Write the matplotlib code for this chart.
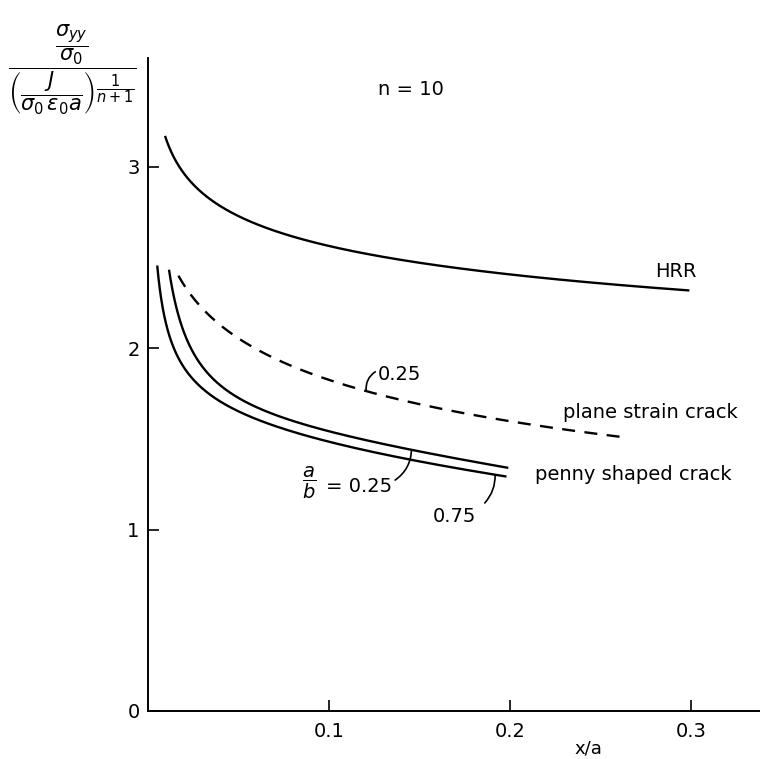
import numpy as np
import matplotlib
matplotlib.use("Agg")
import matplotlib.pyplot as plt

plt.rcParams['font.family'] = ['DejaVu Sans']
plt.rcParams['mathtext.fontset'] = 'dejavusans'

# ---- data ----
hrr_x = [0.0094, 0.0276, 0.0536, 0.081, 0.109, 0.162, 0.217, 0.272, 0.299]
hrr_y = [3.17, 2.88, 2.71, 2.61, 2.54, 2.46, 2.39, 2.34, 2.315]

plane_x = [0.0168, 0.035, 0.0536, 0.072, 0.1006, 0.156, 0.2166, 0.262]
plane_y = [2.40, 2.17, 2.03, 1.935, 1.825, 1.678, 1.569, 1.512]

penny25_x = [0.0116, 0.0168, 0.024, 0.035, 0.05, 0.07, 0.1, 0.15, 0.199]
penny25_y = [2.44, 2.17, 1.99, 1.845, 1.735, 1.64, 1.53, 1.425, 1.347]

penny75_x = [0.0051, 0.0094, 0.0131, 0.02, 0.0324, 0.05, 0.07, 0.1, 0.15, 0.198]
penny75_y = [2.455, 2.17, 2.02, 1.88, 1.77, 1.66, 1.575, 1.47, 1.375, 1.297]

x_ticks = [0.1, 0.2, 0.3]
x_tick_labels = ['0.1', '0.2', '0.3']
y_ticks = [0, 1, 2, 3]
y_tick_labels = ['0', '1', '2', '3']


def smooth(xs, ys, n=300, deg=3):
    lx = np.log(np.asarray(xs, float))
    c = np.polyfit(lx, np.asarray(ys, float), deg)
    t = np.linspace(lx[0], lx[-1], n)
    return np.exp(t), np.polyval(c, t)


fig = plt.figure(figsize=(7.6, 7.59), dpi=100)
ax = fig.add_axes([148/760, 48/759, 612/760, 653/759])
ax.set_xlim(0, 0.338)
ax.set_ylim(0, 3.6)

lw = 1.7
for xs, ys in [(hrr_x, hrr_y), (penny25_x, penny25_y), (penny75_x, penny75_y)]:
    sx, sy = smooth(xs, ys)
    ax.plot(sx, sy, color='black', lw=lw, solid_capstyle='butt')
sx, sy = smooth(plane_x, plane_y)
ax.plot(sx, sy, color='black', lw=lw, dashes=(5.5, 4.0))

for s in ['top', 'right']:
    ax.spines[s].set_visible(False)
for s in ['left', 'bottom']:
    ax.spines[s].set_linewidth(1.4)

ax.set_xticks(x_ticks)
ax.set_xticklabels(x_tick_labels)
ax.set_yticks(y_ticks)
ax.set_yticklabels(y_tick_labels)
ax.tick_params(direction='in', length=8, width=1.2, labelsize=14, pad=6)
ax.tick_params(axis='x', pad=8)

# texts
tk = dict(fontsize=14, color='black', va='baseline', ha='left')
ax.text(0.127, 3.396, 'n = 10', **tk)
ax.text(0.280, 2.39, 'HRR', **tk)
ax.text(0.2293, 1.615, 'plane strain crack', **tk)
ax.text(0.2138, 1.273, 'penny shaped crack', **tk)
ax.text(0.127, 1.825, '0.25', **tk)
ax.text(0.1575, 1.042, '0.75', **tk)
ax.text(0.0985, 1.207, '= 0.25', **tk)
ax.text(0.089, 1.258, r'$\dfrac{a}{b}$', fontsize=14, ha='center', va='center')

ax.text(0.243, -0.207, 'x/a', fontsize=13, ha='center', va='center',
        clip_on=False)

# leader lines
def curve_y(xs, ys, x0):
    sx, sy = smooth(xs, ys)
    return np.interp(x0, sx, sy)

ax.annotate('', xy=(0.1205, curve_y(plane_x, plane_y, 0.1205)),
            xytext=(0.1255, 1.87),
            arrowprops=dict(arrowstyle='-', lw=1.2, color='black',
                            connectionstyle='arc3,rad=0.3',
                            shrinkA=0, shrinkB=0))
ax.annotate('', xy=(0.1455, curve_y(penny25_x, penny25_y, 0.1455)),
            xytext=(0.1365, 1.273),
            arrowprops=dict(arrowstyle='-', lw=1.2, color='black',
                            connectionstyle='arc3,rad=0.25',
                            shrinkA=0, shrinkB=0))
ax.annotate('', xy=(0.1917, curve_y(penny75_x, penny75_y, 0.1917)),
            xytext=(0.186, 1.147),
            arrowprops=dict(arrowstyle='-', lw=1.2, color='black',
                            connectionstyle='arc3,rad=0.2',
                            shrinkA=0, shrinkB=0))

# y-axis label (compound fraction)
fig.text(72/760, 1 - 70/759,
         r'$\dfrac{\dfrac{\sigma_{yy}}{\sigma_0}}'
         r'{\left(\dfrac{J}{\sigma_0\,\epsilon_0 a}\right)^{\dfrac{1}{n+1}}}$',
         fontsize=15, ha='center', va='center')

fig.savefig('out.png', dpi=100)
